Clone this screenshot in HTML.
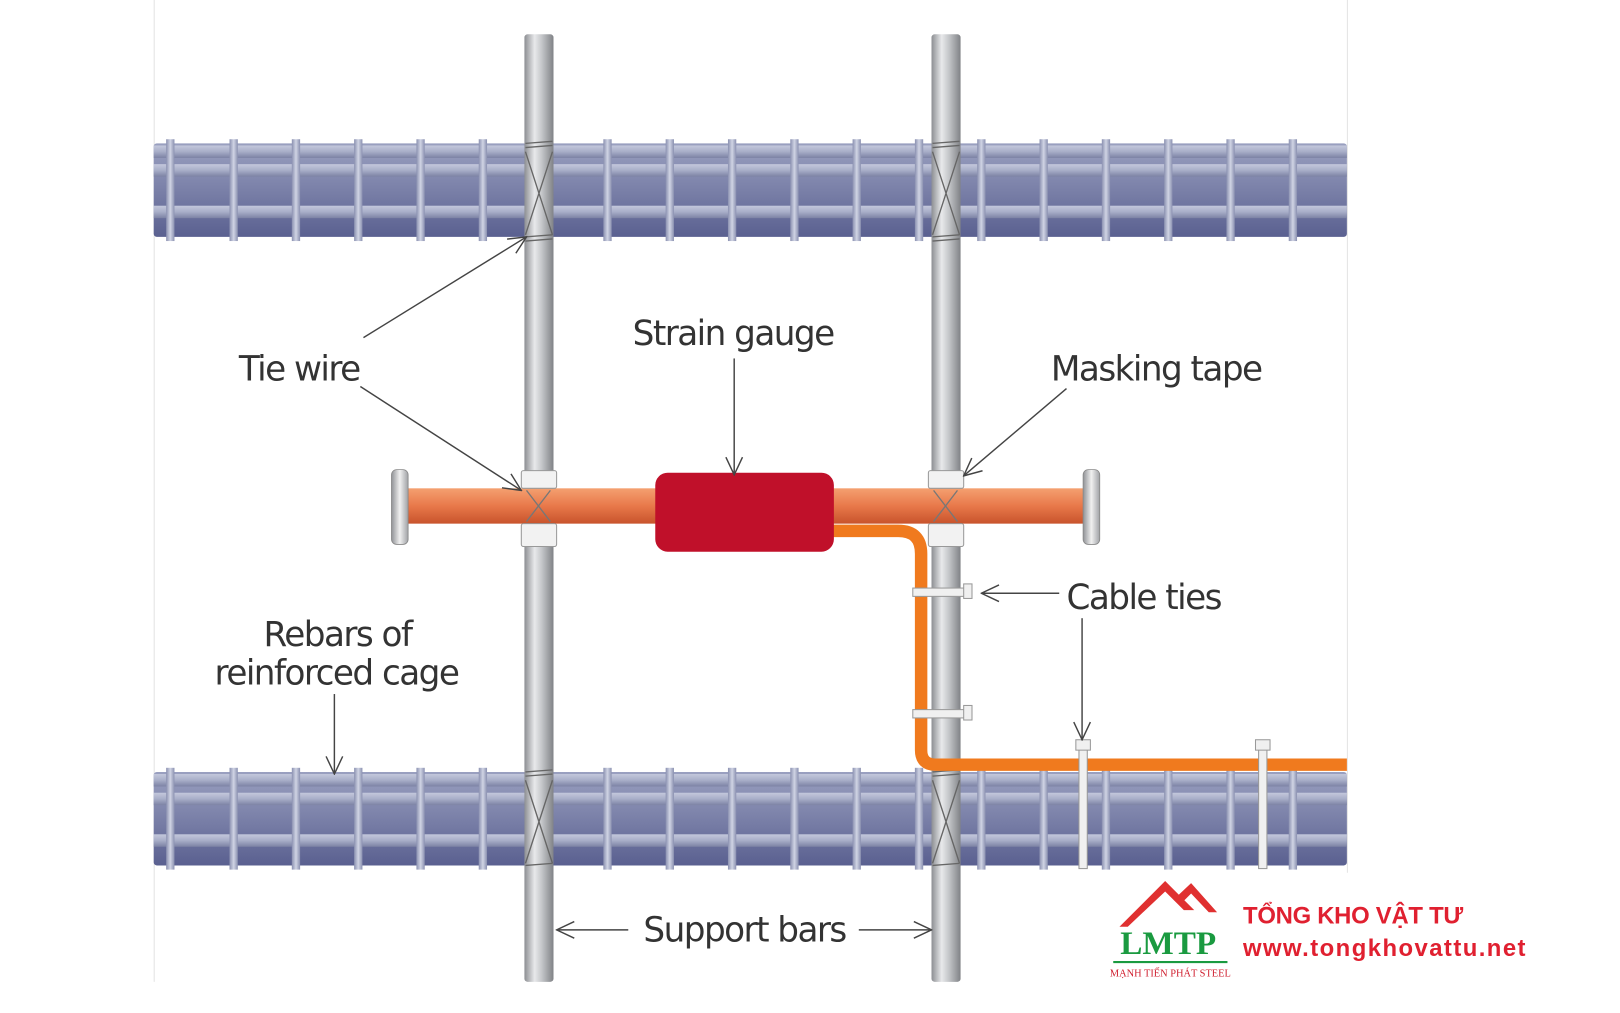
<!DOCTYPE html>
<html><head><meta charset="utf-8"><style>
html,body{margin:0;padding:0;background:#fff;}
svg{display:block;}
.lb{font-family:"DejaVu Sans","Liberation Sans",sans-serif;font-size:33px;fill:#333;letter-spacing:-1.5px;}
</style></head><body>
<svg width="1620" height="1013" viewBox="0 0 1560 975" preserveAspectRatio="none" xmlns="http://www.w3.org/2000/svg">
<defs>
<linearGradient id="cage" x1="0" y1="0" x2="0" y2="1">
<stop offset="0" stop-color="#9aa0c0"/><stop offset="0.5" stop-color="#7a80a8"/><stop offset="1" stop-color="#5a6090"/></linearGradient>
<linearGradient id="hbar" x1="0" y1="0" x2="0" y2="1">
<stop offset="0" stop-color="#c4c8dc"/><stop offset="0.5" stop-color="#a8aec8"/><stop offset="1" stop-color="#7c82a4"/></linearGradient>
<linearGradient id="vst" x1="0" y1="0" x2="1" y2="0">
<stop offset="0" stop-color="#8a90b0"/><stop offset="0.5" stop-color="#d0d4e4"/><stop offset="1" stop-color="#8a90b0"/></linearGradient>
<linearGradient id="sup" x1="0" y1="0" x2="1" y2="0">
<stop offset="0" stop-color="#8c8e92"/><stop offset="0.35" stop-color="#e8e9eb"/><stop offset="0.6" stop-color="#c4c6c9"/><stop offset="1" stop-color="#808286"/></linearGradient>
<linearGradient id="pipe" x1="0" y1="0" x2="0" y2="1">
<stop offset="0" stop-color="#f4a070"/><stop offset="0.5" stop-color="#e8784a"/><stop offset="1" stop-color="#c8542c"/></linearGradient>
<linearGradient id="cap" x1="0" y1="0" x2="1" y2="0">
<stop offset="0" stop-color="#909296"/><stop offset="0.5" stop-color="#f0f0f0"/><stop offset="1" stop-color="#a0a2a6"/></linearGradient>
<marker id="ar" viewBox="0 0 20 20" refX="19" refY="10" markerWidth="20" markerHeight="20" markerUnits="userSpaceOnUse" orient="auto">
<path d="M2,2 L19,10 L2,18" fill="none" stroke="#444" stroke-width="1.4"/></marker>
</defs>
<rect width="1560" height="975" fill="#fff"/>
<line x1="148.5" y1="0" x2="148.5" y2="945" stroke="#e4e4e4"/>
<line x1="1297.5" y1="0" x2="1297.5" y2="840" stroke="#e4e4e4"/>

<g id="cageTop">
<rect x="148" y="138" width="1149" height="90" rx="3" fill="url(#cage)"/>
<rect x="148" y="140" width="1149" height="12" fill="url(#hbar)"/>
<rect x="148" y="158" width="1149" height="12" fill="url(#hbar)"/>
<rect x="148" y="198" width="1149" height="12" fill="url(#hbar)"/>
<g fill="url(#vst)">
<rect x="160" y="134" width="8" height="98"/><rect x="221" y="134" width="8" height="98"/><rect x="281" y="134" width="8" height="98"/><rect x="341" y="134" width="8" height="98"/><rect x="401" y="134" width="8" height="98"/><rect x="461" y="134" width="8" height="98"/><rect x="581" y="134" width="8" height="98"/><rect x="641" y="134" width="8" height="98"/><rect x="701" y="134" width="8" height="98"/><rect x="761" y="134" width="8" height="98"/><rect x="821" y="134" width="8" height="98"/><rect x="881" y="134" width="8" height="98"/><rect x="941" y="134" width="8" height="98"/><rect x="1001" y="134" width="8" height="98"/><rect x="1061" y="134" width="8" height="98"/><rect x="1121" y="134" width="8" height="98"/><rect x="1181" y="134" width="8" height="98"/><rect x="1241" y="134" width="8" height="98"/>
</g></g>
<g transform="translate(0,605)">
<rect x="148" y="138" width="1149" height="90" rx="3" fill="url(#cage)"/>
<rect x="148" y="140" width="1149" height="12" fill="url(#hbar)"/>
<rect x="148" y="158" width="1149" height="12" fill="url(#hbar)"/>
<rect x="148" y="198" width="1149" height="12" fill="url(#hbar)"/>
<g fill="url(#vst)">
<rect x="160" y="134" width="8" height="98"/><rect x="221" y="134" width="8" height="98"/><rect x="281" y="134" width="8" height="98"/><rect x="341" y="134" width="8" height="98"/><rect x="401" y="134" width="8" height="98"/><rect x="461" y="134" width="8" height="98"/><rect x="581" y="134" width="8" height="98"/><rect x="641" y="134" width="8" height="98"/><rect x="701" y="134" width="8" height="98"/><rect x="761" y="134" width="8" height="98"/><rect x="821" y="134" width="8" height="98"/><rect x="881" y="134" width="8" height="98"/><rect x="941" y="134" width="8" height="98"/><rect x="1001" y="134" width="8" height="98"/><rect x="1061" y="134" width="8" height="98"/><rect x="1121" y="134" width="8" height="98"/><rect x="1181" y="134" width="8" height="98"/><rect x="1241" y="134" width="8" height="98"/>
</g></g>

<rect x="505" y="33" width="28" height="912" rx="3" fill="url(#sup)"/>
<rect x="897" y="33" width="28" height="912" rx="3" fill="url(#sup)"/>
<g stroke="#666" stroke-width="1.3" fill="none">
<path d="M506,138 L532,136 M506,142 L532,140 M506,146 L532,226 M532,146 L506,226 M506,228 L532,226 M506,232 L532,230"/>
<path d="M898,138 L924,136 M898,142 L924,140 M898,146 L924,226 M924,146 L898,226 M898,228 L924,226 M898,232 L924,230"/>
<path d="M506,743 L532,741 M506,747 L532,745 M506,751 L532,831 M532,751 L506,831 M506,833 L532,831"/>
<path d="M898,743 L924,741 M898,747 L924,745 M898,751 L924,831 M924,751 L898,831 M898,833 L924,831"/>
</g>

<path d="M800,511 L865,511 Q887,511 887,533 L887,722 Q887,736 901,736 L1297,736" fill="none" stroke="#f07a1e" stroke-width="12"/>
<rect x="390" y="470" width="655" height="34" fill="url(#pipe)"/>
<rect x="377" y="452" width="16" height="72" rx="5" fill="url(#cap)" stroke="#888" stroke-width="0.8"/>
<rect x="1043" y="452" width="16" height="72" rx="5" fill="url(#cap)" stroke="#888" stroke-width="0.8"/>
<g fill="#f2f2f2" stroke="#999" stroke-width="1">
<rect x="502" y="453" width="34" height="17" rx="2"/><rect x="502" y="504" width="34" height="22" rx="2"/>
<rect x="894" y="453" width="34" height="17" rx="2"/><rect x="894" y="504" width="34" height="22" rx="2"/>
</g>
<g stroke="#777" stroke-width="1.3"><path d="M507,472 L530,502 M530,472 L507,502 M899,472 L922,502 M922,472 L899,502"/></g>
<rect x="631" y="455" width="172" height="76" rx="12" fill="#c0102a"/>
<g fill="#f0f0f0" stroke="#999" stroke-width="1">
<rect x="879" y="566" width="54" height="8"/><rect x="928" y="562" width="8" height="14"/>
<rect x="879" y="683" width="54" height="8"/><rect x="928" y="679" width="8" height="14"/>
<rect x="1039" y="718" width="8" height="118"/><rect x="1036" y="712" width="14" height="10"/>
<rect x="1212" y="718" width="8" height="118"/><rect x="1209" y="712" width="14" height="10"/>
</g>

<g stroke="#444" stroke-width="1.4" fill="none" marker-end="url(#ar)">
<line x1="350" y1="325" x2="507" y2="228"/>
<line x1="347" y1="372" x2="502" y2="472"/>
<line x1="707" y1="345" x2="707" y2="457"/>
<line x1="1027" y1="374" x2="928" y2="458"/>
<line x1="1020" y1="571" x2="945" y2="571"/>
<line x1="1042" y1="595" x2="1042" y2="712"/>
<line x1="322" y1="668" x2="322" y2="745"/>
<line x1="605" y1="895" x2="536" y2="895"/>
<line x1="827" y1="895" x2="897" y2="895"/>
</g>

<text class="lb" x="230" y="366">Tie wire</text>
<text class="lb" x="706" y="332" text-anchor="middle">Strain gauge</text>
<text class="lb" x="1012" y="366">Masking tape</text>
<text class="lb" x="1027" y="586">Cable ties</text>
<text class="lb" x="325" y="622" text-anchor="middle">Rebars of</text>
<text class="lb" x="324" y="659" text-anchor="middle">reinforced cage</text>
<text class="lb" x="717" y="906" text-anchor="middle">Support bars</text>

<path d="M1078,892 L1122,848 L1150,876 L1140,876 L1122,858 L1086,892 Z" fill="#e03030"/>
<path d="M1130,866 L1147,850 L1172,878 L1164,878 L1147,860 L1136,871 Z" fill="#e03030"/>
<text x="1125" y="918" text-anchor="middle" font-family="'Liberation Serif',serif" font-weight="bold" font-size="32" fill="#1a9a40">LMTP</text>
<line x1="1072" y1="926" x2="1182" y2="926" stroke="#1a9a40" stroke-width="2"/>
<text x="1127" y="940" text-anchor="middle" font-family="'Liberation Serif',serif" font-size="10" fill="#d02030">MẠNH TIẾN PHÁT STEEL</text>
<text x="1197" y="889" font-family="'Liberation Sans','DejaVu Sans',sans-serif" font-weight="bold" font-size="23" fill="#e02030" textLength="212">TỔNG KHO VẬT TƯ</text>
<text x="1197" y="920" font-family="'Liberation Sans','DejaVu Sans',sans-serif" font-weight="bold" font-size="23" fill="#e02030" textLength="272">www.tongkhovattu.net</text>
</svg>
</body></html>
